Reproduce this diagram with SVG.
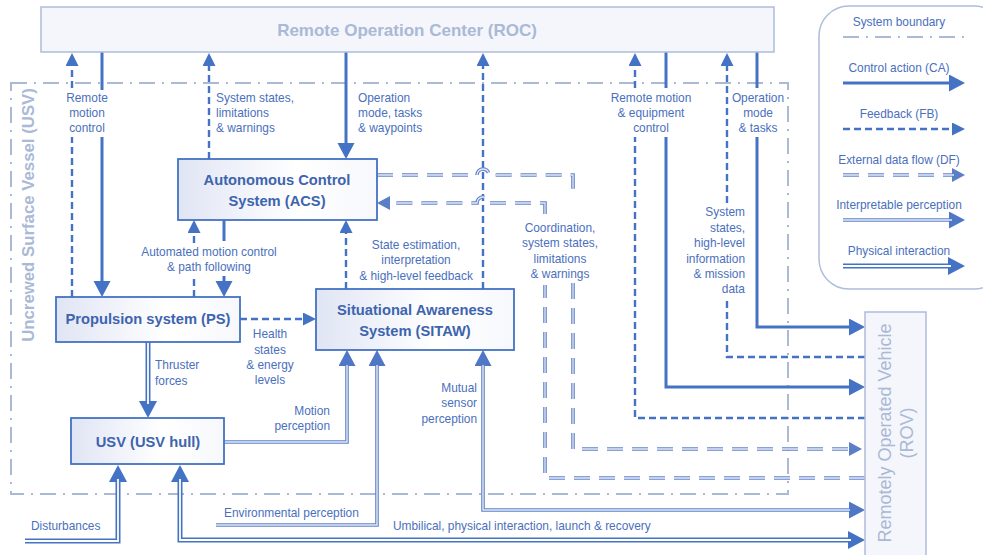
<svg xmlns="http://www.w3.org/2000/svg" width="983" height="555" viewBox="0 0 983 555">
<style>
text{font-family:"Liberation Sans",Arial,sans-serif;}
.lbl{font-size:11.9px;fill:#4a70bd;}
.mid{text-anchor:middle;}
.end{text-anchor:end;}
.box{fill:url(#g);stroke:#4472C4;stroke-width:1.8;}
.btxt{font-size:14.7px;font-weight:bold;fill:#3d64ae;text-anchor:middle;}
.grey{fill:#f4f6fb;stroke:#aebddb;stroke-width:1.5;}
.gtxt{font-weight:bold;fill:#a9b9d6;text-anchor:middle;}
.bnd{fill:none;stroke:#a9b9d6;stroke-width:2;stroke-dasharray:16 7 2 7;}
.ca{fill:none;stroke:#4472C4;stroke-width:3;}
.fb{fill:none;stroke:#4472C4;stroke-width:2.4;stroke-dasharray:7 4;}
.df1{fill:none;stroke:#6283cb;stroke-width:3.6;stroke-dasharray:16 9;}
.df2{fill:none;stroke:#e4e9f6;stroke-width:1.3;stroke-dasharray:16 9;}
.ip1{fill:none;stroke:#5f82ca;stroke-width:3.6;}
.ip2{fill:none;stroke:#e4e9f6;stroke-width:1.4;}
.ph1{fill:none;stroke:#4472C4;stroke-width:5;}
.ph2{fill:none;stroke:#ffffff;stroke-width:1.8;}
</style>
<defs>
<linearGradient id="g" x1="0" y1="0" x2="1" y2="0">
<stop offset="0" stop-color="#e0e5f4"/>
<stop offset="0.6" stop-color="#ffffff"/>
<stop offset="1" stop-color="#f7f8fc"/>
</linearGradient>
<marker id="mCA" markerUnits="userSpaceOnUse" markerWidth="18" markerHeight="18" refX="2" refY="8.5" orient="auto-start-reverse"><path d="M0,0 L16,8.5 L0,17 Z" fill="#4472C4"/></marker>
<marker id="mFB" markerUnits="userSpaceOnUse" markerWidth="14" markerHeight="14" refX="2" refY="6.5" orient="auto-start-reverse"><path d="M0,0 L13,6.5 L0,13 Z" fill="#4472C4"/></marker>
<marker id="mDF" markerUnits="userSpaceOnUse" markerWidth="14" markerHeight="15" refX="2" refY="7" orient="auto-start-reverse"><path d="M0,0 L13,7 L0,14 Z" fill="#5a7ec8"/></marker>
<marker id="mIP" markerUnits="userSpaceOnUse" markerWidth="18" markerHeight="18" refX="2" refY="8.5" orient="auto-start-reverse"><path d="M0,0 L16,8.5 L0,17 Z" fill="#4f77c6"/></marker>
<marker id="mPH" markerUnits="userSpaceOnUse" markerWidth="18" markerHeight="19" refX="2" refY="9" orient="auto-start-reverse"><path d="M0,0 L17,9 L0,18 Z" fill="#4472C4"/></marker>
</defs>
<rect width="983" height="555" fill="#ffffff"/>

<g id="usv-boundary">
<rect class="bnd" x="11" y="83" width="777" height="411"/>
<text class="gtxt" font-size="16.8" transform="translate(34,215) rotate(-90)">Uncrewed Surface Vessel (USV)</text>
</g>

<g id="connectors">
<path class="fb" d="M72,297 V137"/>
<path class="fb" d="M72,88 V64" marker-end="url(#mFB)"/>
<path class="ca" d="M102,52 V90"/>
<path class="ca" d="M102,137 V283" marker-end="url(#mCA)"/>
<path class="fb" d="M209,159 V64" marker-end="url(#mFB)"/>
<path class="ca" d="M346,52 V145" marker-end="url(#mCA)"/>
<path class="fb" d="M483,289 V64" marker-end="url(#mFB)"/>
<path class="fb" d="M865,418 H635 V137"/>
<path class="fb" d="M635,88 V64" marker-end="url(#mFB)"/>
<path class="ca" d="M666,52 V88"/>
<path class="ca" d="M666,137 V387 H851" marker-end="url(#mCA)"/>
<path class="fb" d="M865,357 H727 V297"/>
<path class="fb" d="M727,203 V64" marker-end="url(#mFB)"/>
<path class="ca" d="M757,52 V88"/>
<path class="ca" d="M757,137 V327 H851" marker-end="url(#mCA)"/>
<path class="df1" d="M377,175 H477 A6,6 0 0 1 489,175 H573 V192"/>
<path class="df2" d="M377,175 H477 A6,6 0 0 1 489,175 H573 V192"/>
<path class="df1" d="M573,283 V449 H851" marker-end="url(#mDF)"/>
<path class="df2" d="M573,283 V449 H851"/>
<path class="df1" d="M865,478 H545 V285"/>
<path class="df2" d="M865,478 H545 V285"/>
<path class="df1" d="M545,214 V203 H489 A6,6 0 0 0 477,203 H388" marker-end="url(#mDF)"/>
<path class="df2" d="M545,214 V203 H489 A6,6 0 0 0 477,203 H388"/>
<path class="fb" d="M194,297 V276"/>
<path class="fb" d="M194,243 V231" marker-end="url(#mFB)"/>
<path class="ca" d="M224,220 V241"/>
<path class="ca" d="M224,276 V283" marker-end="url(#mCA)"/>
<path class="fb" d="M240,319 H305" marker-end="url(#mFB)"/>
<path class="fb" d="M346,289 V231" marker-end="url(#mFB)"/>
<path class="ph1" d="M148,342 V403" marker-end="url(#mPH)"/>
<path class="ph2" d="M148,342 V404"/>
<path class="ip1" d="M224,442 H347 V364" marker-end="url(#mIP)"/>
<path class="ip2" d="M224,442 H347 V365"/>
<path class="ip1" d="M216,525 H377 V364" marker-end="url(#mIP)"/>
<path class="ip2" d="M216,525 H377 V365"/>
<path class="ip1" d="M483,364 V510 H851" marker-start="url(#mIP)" marker-end="url(#mIP)"/>
<path class="ip2" d="M483,365 V510 H850"/>
<path class="ph1" d="M180,480 V540 H850" marker-start="url(#mPH)" marker-end="url(#mPH)"/>
<path class="ph2" d="M180,479 V540 H851"/>
<path class="ph1" d="M25,541 H118 V480" marker-end="url(#mPH)"/>
<path class="ph2" d="M25,541 H118 V479"/>
</g>

<g id="labels">
<text class="lbl mid" x="87" y="102">Remote</text>
<text class="lbl mid" x="87" y="117">motion</text>
<text class="lbl mid" x="87" y="132">control</text>
<text class="lbl" x="216" y="102">System states,</text>
<text class="lbl" x="216" y="117">limitations</text>
<text class="lbl" x="216" y="132">&amp; warnings</text>
<text class="lbl" x="358" y="102">Operation</text>
<text class="lbl" x="358" y="117">mode, tasks</text>
<text class="lbl" x="358" y="132">&amp; waypoints</text>
<text class="lbl mid" x="651" y="102">Remote motion</text>
<text class="lbl mid" x="651" y="117">&amp; equipment</text>
<text class="lbl mid" x="651" y="132">control</text>
<text class="lbl mid" x="758" y="102">Operation</text>
<text class="lbl mid" x="758" y="117">mode</text>
<text class="lbl mid" x="758" y="132">&amp; tasks</text>
<text class="lbl end" x="745" y="216">System</text>
<text class="lbl end" x="745" y="232">states,</text>
<text class="lbl end" x="745" y="247">high-level</text>
<text class="lbl end" x="745" y="263">information</text>
<text class="lbl end" x="745" y="278">&amp; mission</text>
<text class="lbl end" x="745" y="293">data</text>
<text class="lbl mid" x="560" y="232">Coordination,</text>
<text class="lbl mid" x="560" y="247">system states,</text>
<text class="lbl mid" x="560" y="263">limitations</text>
<text class="lbl mid" x="560" y="278">&amp; warnings</text>
<text class="lbl mid" x="416" y="249">State estimation,</text>
<text class="lbl mid" x="416" y="264">interpretation</text>
<text class="lbl mid" x="416" y="280">&amp; high-level feedback</text>
<text class="lbl mid" x="209" y="256">Automated motion control</text>
<text class="lbl mid" x="209" y="271">&amp; path following</text>
<text class="lbl mid" x="270" y="338">Health</text>
<text class="lbl mid" x="270" y="354">states</text>
<text class="lbl mid" x="270" y="369">&amp; energy</text>
<text class="lbl mid" x="270" y="384">levels</text>
<text class="lbl" x="155" y="369">Thruster</text>
<text class="lbl" x="155" y="385">forces</text>
<text class="lbl end" x="330" y="415">Motion</text>
<text class="lbl end" x="330" y="430">perception</text>
<text class="lbl end" x="477" y="392">Mutual</text>
<text class="lbl end" x="477" y="407">sensor</text>
<text class="lbl end" x="477" y="423">perception</text>
<text class="lbl" x="224" y="517">Environmental perception</text>
<text class="lbl" x="393" y="530">Umbilical, physical interaction, launch &amp; recovery</text>
<text class="lbl" x="31" y="530">Disturbances</text>
</g>

<g id="roc">
<rect class="grey" x="41" y="7" width="733" height="45"/>
<text class="gtxt" font-size="17" x="407" y="36">Remote Operation Center (ROC)</text>
</g>
<g id="rov">
<rect class="grey" x="865" y="312" width="61" height="250"/>
<text class="gtxt" font-size="18" transform="translate(891,433) rotate(-90)" style="font-weight:normal">Remotely Operated Vehicle</text>
<text class="gtxt" font-size="18" transform="translate(913,433) rotate(-90)" style="font-weight:normal">(ROV)</text>
</g>
<g id="acs">
<rect class="box" x="178" y="159" width="199" height="61"/>
<text class="btxt" x="277" y="185">Autonomous Control</text>
<text class="btxt" x="277" y="206">System (ACS)</text>
</g>
<g id="ps">
<rect class="box" x="56" y="297" width="184" height="45"/>
<text class="btxt" x="148" y="324">Propulsion system (PS)</text>
</g>
<g id="sitaw">
<rect class="box" x="316" y="289" width="198" height="61"/>
<text class="btxt" x="415" y="315">Situational Awareness</text>
<text class="btxt" x="415" y="336">System (SITAW)</text>
</g>
<g id="usv-hull">
<rect class="box" x="71" y="418" width="153" height="46"/>
<text class="btxt" x="148" y="447">USV (USV hull)</text>
</g>

<g id="legend">
<rect x="819" y="6" width="185" height="283" rx="30" fill="#ffffff" stroke="#aebddb" stroke-width="1.5"/>
<text class="lbl mid" x="899" y="26">System boundary</text>
<path class="bnd" d="M843,37 H965"/>
<text class="lbl mid" x="899" y="72">Control action (CA)</text>
<path class="ca" d="M843,83 H951" marker-end="url(#mCA)"/>
<text class="lbl mid" x="899" y="118">Feedback (FB)</text>
<path class="fb" d="M843,129 H954" marker-end="url(#mFB)"/>
<text class="lbl mid" x="899" y="164">External data flow (DF)</text>
<path class="df1" d="M843,175 H954" marker-end="url(#mDF)"/>
<path class="df2" d="M843,175 H954"/>
<text class="lbl mid" x="899" y="209">Interpretable perception</text>
<path class="ip1" d="M843,220 H951" marker-end="url(#mIP)"/>
<path class="ip2" d="M843,220 H952"/>
<text class="lbl mid" x="899" y="255">Physical interaction</text>
<path class="ph1" d="M843,266 H950" marker-end="url(#mPH)"/>
<path class="ph2" d="M843,266 H951"/>
</g>
</svg>
